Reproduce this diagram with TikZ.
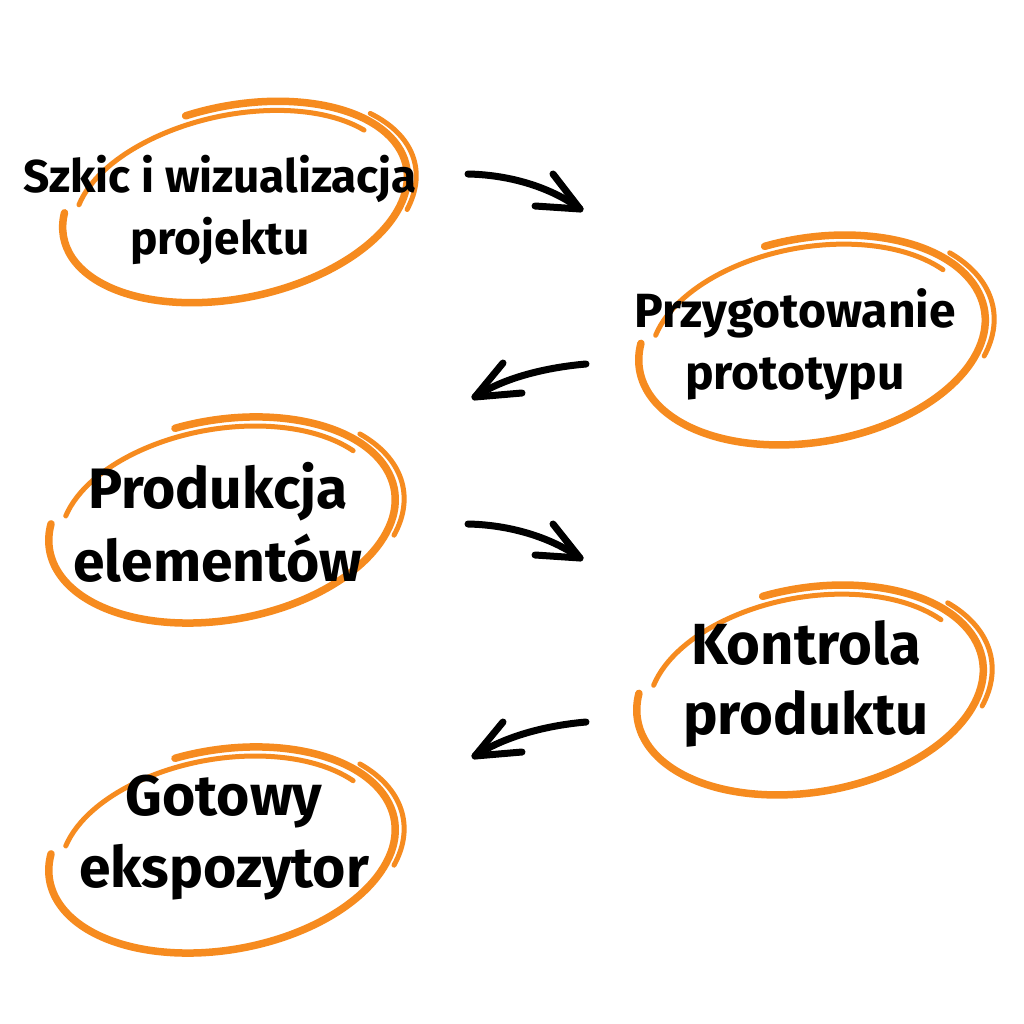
\documentclass[tikz,border=0pt]{standalone}
\usepackage{fontspec}
\setmainfont{Fira Sans}
\definecolor{org}{HTML}{F68B1F}
\newcommand\handell[4]{%
\begin{scope}[shift={(#1,#2)}, rotate=#3]
\draw[ell] (-100:175 and #4) arc[start angle=-100,end angle=195,x radius=175,y radius=#4];
\draw[ell, line width=5pt] (-160:163 and #4-9) arc[start angle=-160,end angle=-30,x radius=163,y radius=#4-9];
\draw[ell, line width=5pt] (-35:184 and #4+6) arc[start angle=-35,end angle=25,x radius=184,y radius=#4+6];
\end{scope}}
\begin{document}
\begin{tikzpicture}[x=1pt,y=-1pt,
  ell/.style={draw=org, line width=7.5pt, line cap=round},
  lbl/.style={align=center, text=black, inner sep=0pt},
  arr/.style={draw=black, line width=7pt, line cap=round, line join=round}]
\useasboundingbox[fill=white] (0,0) rectangle (1024,1024);
\handell{235}{202}{12}{96}
\handell{812}{340}{10}{102}
\handell{222}{520}{10}{100}
\handell{810}{690}{10}{102}
\handell{222}{850}{10}{100}
\node[lbl, font=\fontsize{46}{62}\selectfont\bfseries] (n1) at (220,210) {Szkic i wizualizacja\\projektu};
\node[lbl, font=\fontsize{48}{62}\selectfont\bfseries] (n2) at (795,344) {Przygotowanie\\prototypu};
\node[lbl, font=\fontsize{57}{73}\selectfont\bfseries] (n3) at (218,522) {Produkcja\\elementów};
\node[lbl, font=\fontsize{58}{70}\selectfont\bfseries] (n4) at (806,684) {Kontrola\\produktu};
\node[lbl, font=\fontsize{57}{72}\selectfont\bfseries] (n5) at (224,838) {Gotowy\\ekspozytor};
% arrow 1
\coordinate (a1s) at (468,174);
\coordinate (a1t) at (580,209);
\draw[arr] (a1s) .. controls (515,175) and (555,190) .. (a1t);
\draw[arr] (553,174) -- (a1t) -- (535,206);
% arrow 2
\coordinate (a2s) at (586,364);
\coordinate (a2t) at (475,397);
\draw[arr] (a2s) .. controls (540,368) and (500,380) .. (a2t);
\draw[arr] (503,363) -- (a2t) -- (522,393);
% arrow 3
\coordinate (a3s) at (468,524);
\coordinate (a3t) at (580,558);
\draw[arr] (a3s) .. controls (515,525) and (555,540) .. (a3t);
\draw[arr] (553,524) -- (a3t) -- (535,555);
% arrow 4
\coordinate (a4s) at (586,722);
\coordinate (a4t) at (475,756);
\draw[arr] (a4s) .. controls (540,726) and (500,739) .. (a4t);
\draw[arr] (503,722) -- (a4t) -- (522,752);
\end{tikzpicture}
\end{document}
